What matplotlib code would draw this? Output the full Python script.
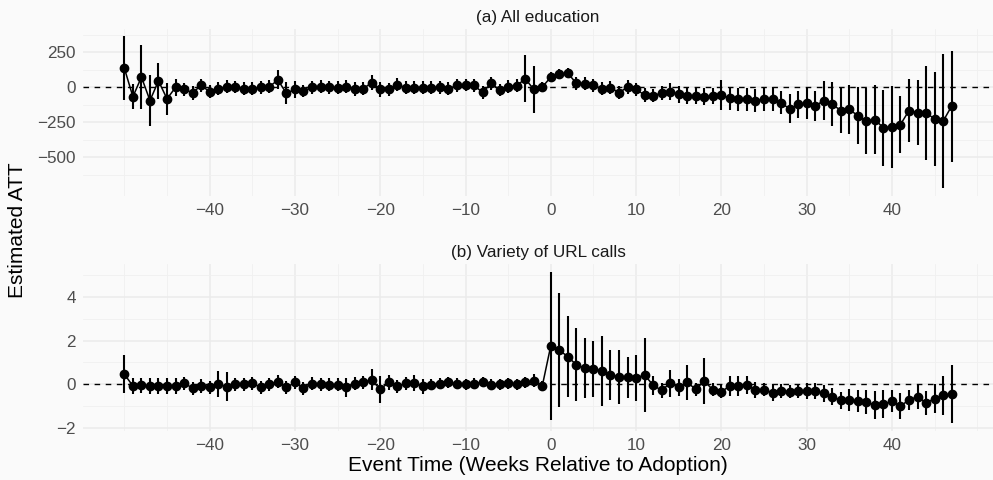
import matplotlib
matplotlib.use("Agg")
import matplotlib.pyplot as plt

plt.rcParams['font.family'] = ['Liberation Sans', 'DejaVu Sans']

event_time = list(range(-50, 48))

# (a) All education
att_edu = [137, -67, 74, -94, 46, -82, 0, -14, -38, 14,
           -31, -10, 5, 2, -10, -10, 0, 5, 53, -43,
           -14, -26, 0, 5, 0, -2, 5, -10, -10, 34,
           -14, -14, 19, -2, -2, -2, -2, 0, -10, 14,
           17, 14, -36, 29, -19, 5, 12, 62, -14, 2,
           74, 94, 101, 29, 26, 14, -10, -2, -38, 2,
           -14, -55, -60, -40, -31, -50, -62, -62, -67, -62,
           -55, -79, -86, -86, -94, -86, -82, -110, -154, -122,
           -115, -134, -94, -120, -166, -158, -202, -242, -230, -290,
           -283, -266, -166, -182, -182, -226, -242, -134]
ci_edu = [228, 90, 230, 182, 126, 114, 60, 45, 50, 45,
          45, 45, 45, 45, 45, 45, 45, 45, 68, 78,
          60, 45, 45, 45, 45, 45, 45, 50, 45, 55,
          52, 45, 45, 45, 45, 45, 45, 45, 45, 45,
          45, 45, 45, 45, 45, 45, 45, 170, 169, 36,
          36, 36, 36, 48, 48, 48, 48, 48, 48, 48,
          48, 48, 48, 48, 60, 60, 60, 60, 60, 60,
          108, 84, 84, 84, 84, 84, 84, 84, 104, 96,
          108, 108, 137, 160, 162, 174, 205, 236, 248, 271,
          294, 204, 228, 234, 336, 338, 480, 398]

# (b) Variety of URL calls
att_url = [0.46, -0.08, -0.05, -0.08, -0.08, -0.08, -0.08, 0.05, -0.18, -0.08,
           -0.15, 0.03, -0.12, 0, 0, 0.05, -0.15, 0, 0.12, -0.15,
           0.08, -0.18, 0.03, 0, -0.03, -0.03, -0.15, 0.03, 0.08, 0.2,
           -0.23, 0.08, -0.1, 0.05, 0.05, -0.1, -0.03, 0.03, 0.08, 0.03,
           0, 0.03, 0.1, -0.03, 0, 0.05, 0, 0.08, 0.15, -0.08,
           1.77, 1.57, 1.26, 0.89, 0.74, 0.69, 0.62, 0.43, 0.34, 0.31,
           0.28, 0.43, -0.05, -0.28, 0.05, -0.15, 0.08, -0.23, 0.15, -0.26,
           -0.34, -0.08, -0.08, -0.03, -0.26, -0.26, -0.38, -0.31, -0.34, -0.31,
           -0.31, -0.31, -0.42, -0.57, -0.74, -0.74, -0.77, -0.82, -0.95, -0.92,
           -0.77, -1.0, -0.72, -0.57, -0.85, -0.66, -0.51, -0.46]
ci_url = [0.86, 0.38, 0.35, 0.35, 0.35, 0.35, 0.35, 0.3, 0.3, 0.3,
          0.3, 0.6, 0.67, 0.3, 0.3, 0.3, 0.3, 0.3, 0.3, 0.3,
          0.3, 0.3, 0.3, 0.3, 0.3, 0.3, 0.42, 0.3, 0.3, 0.48,
          0.63, 0.35, 0.3, 0.3, 0.38, 0.35, 0.25, 0.25, 0.25, 0.25,
          0.25, 0.25, 0.25, 0.25, 0.25, 0.25, 0.25, 0.25, 0.3, 0.25,
          3.4, 2.6, 1.85, 1.67, 1.39, 1.28, 1.6, 1.14, 1.23, 0.96,
          1.06, 1.71, 0.43, 0.35, 0.62, 0.38, 0.8, 0.3, 1.05, 0.3,
          0.3, 0.45, 0.45, 0.4, 0.35, 0.3, 0.4, 0.3, 0.3, 0.3,
          0.35, 0.35, 0.4, 0.4, 0.4, 0.5, 0.5, 0.55, 0.65, 0.65,
          0.5, 0.6, 0.45, 0.55, 0.55, 0.65, 0.9, 1.34]

x_major = [-40, -30, -20, -10, 0, 10, 20, 30, 40]
x_minor = [-50, -45, -35, -25, -15, -5, 5, 15, 25, 35, 45, 50]
y_major_edu = [-500, -250, 0, 250]
y_minor_edu = [-625, -375, -125, 125, 375]
y_major_url = [-2, 0, 2, 4]
y_minor_url = [-1, 1, 3, 5]

bg = '#FAFAFA'
fig = plt.figure(figsize=(9.93, 4.8), dpi=100, facecolor=bg)
ax1 = fig.add_axes([0.0836, 0.592, 0.9164, 0.348])
ax2 = fig.add_axes([0.0836, 0.102, 0.9164, 0.348])

panels = [(ax1, att_edu, ci_edu, '(a) All education', y_major_edu, y_minor_edu),
          (ax2, att_url, ci_url, '(b) Variety of URL calls', y_major_url, y_minor_url)]

for ax, att, ci, title, ymaj, ymin in panels:
    ax.set_facecolor(bg)
    for s in ax.spines.values():
        s.set_visible(False)
    ax.errorbar(event_time, att, yerr=ci, fmt='none', ecolor='black', elinewidth=1.5, zorder=3)
    ax.plot(event_time, att, color='black', lw=1.1, marker='o', ms=6, zorder=4)
    ax.axhline(0, color='black', lw=1.0, ls=(0, (4, 4)), zorder=2)
    ax.margins(x=0.05, y=0.05)
    ax.set_xticks(x_major)
    ax.set_xticks(x_minor, minor=True)
    ax.set_yticks(ymaj)
    ax.set_yticks(ymin, minor=True)
    ax.set_yticklabels([str(v).replace('-', '\u2212') for v in ymaj])
    ax.set_xticklabels([str(v).replace('-', '\u2212') for v in x_major])
    ax.grid(which='major', color='#EBEBEB', lw=1.1, zorder=0)
    ax.grid(which='minor', color='#F0F0F0', lw=0.6, zorder=0)
    ax.set_axisbelow(True)
    ax.tick_params(which='both', length=0, labelsize=12.3, labelcolor='#4D4D4D', pad=5)
    ax.set_title(title, fontsize=12.3, color='#1A1A1A', pad=5)

fig.text(0.018, 0.52, 'Estimated ATT', rotation=90, ha='center', va='center', fontsize=15, color='black')
fig.text(0.5418, 0.03, 'Event Time (Weeks Relative to Adoption)', ha='center', va='center', fontsize=15, color='black')

fig.savefig('out.png', dpi=100, facecolor=bg)
